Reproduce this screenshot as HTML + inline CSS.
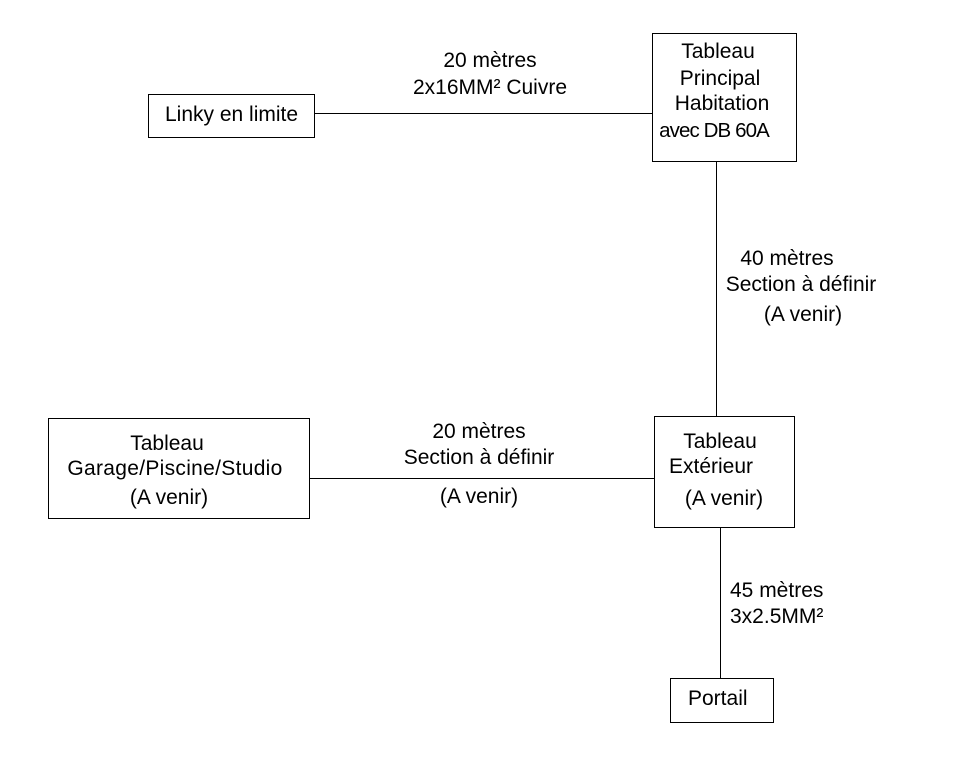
<!DOCTYPE html>
<html><head><meta charset="utf-8"><style>
body{margin:0;background:#fff;width:965px;height:773px;position:relative;overflow:hidden;font-family:"Liberation Sans",Arial,sans-serif;font-size:21px;color:#000}
.b{position:absolute;border:1px solid #000;box-sizing:border-box;background:#fff}
.t{position:absolute;line-height:22px;white-space:nowrap;transform:translateX(-50%)}
.l{position:absolute;line-height:22px;white-space:nowrap}
.h{position:absolute;height:1px;background:#000}
.v{position:absolute;width:1px;background:#000}
</style></head><body>
<div class="h" style="left:315px;top:113px;width:337px"></div>
<div class="v" style="left:716px;top:161px;height:255px"></div>
<div class="h" style="left:309px;top:478px;width:345px"></div>
<div class="v" style="left:720px;top:527px;height:151px"></div>

<div class="b" style="left:148px;top:94px;width:167px;height:44px"></div>
<div class="l" style="left:165px;top:104px">Linky en limite</div>

<div class="b" style="left:652px;top:33px;width:145px;height:129px"></div>
<div class="t" style="left:718px;top:41px">Tableau</div>
<div class="t" style="left:720px;top:68px">Principal</div>
<div class="t" style="left:722px;top:93px">Habitation</div>
<div class="t" style="left:714px;top:120px;font-size:20.5px;letter-spacing:-0.9px">avec DB 60A</div>

<div class="b" style="left:654px;top:416px;width:141px;height:112px"></div>
<div class="t" style="left:720px;top:431px">Tableau</div>
<div class="t" style="left:711px;top:456px">Extérieur</div>
<div class="t" style="left:724px;top:488px">(A venir)</div>

<div class="b" style="left:48px;top:418px;width:262px;height:101px"></div>
<div class="t" style="left:167px;top:433px">Tableau</div>
<div class="t" style="left:175px;top:458px;letter-spacing:0.3px">Garage/Piscine/Studio</div>
<div class="t" style="left:169px;top:487px">(A venir)</div>

<div class="b" style="left:670px;top:678px;width:104px;height:45px"></div>
<div class="l" style="left:688px;top:688px">Portail</div>

<div class="t" style="left:490px;top:50px">20 mètres</div>
<div class="t" style="left:490px;top:77px">2x16MM² Cuivre</div>
<div class="t" style="left:787px;top:248px">40 mètres</div>
<div class="t" style="left:801px;top:274px">Section à définir</div>
<div class="t" style="left:803px;top:304px">(A venir)</div>
<div class="t" style="left:479px;top:421px">20 mètres</div>
<div class="t" style="left:479px;top:447px">Section à définir</div>
<div class="t" style="left:479px;top:486px">(A venir)</div>
<div class="l" style="left:730px;top:580px">45 mètres</div>
<div class="l" style="left:730px;top:606px">3x2.5MM²</div>
</body></html>
